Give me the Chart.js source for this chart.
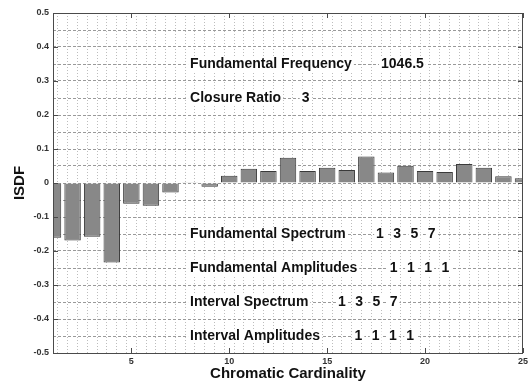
<!DOCTYPE html>
<html>
<head>
<meta charset="utf-8">
<script src="https://cdn.jsdelivr.net/npm/chart.js@4"></script>
<style>
  html, body { margin: 0; padding: 0; background: #fff; }
  #wrap { width: 531px; height: 385px; }
</style>
</head>
<body>
<div id="wrap"><canvas id="isdfChart" width="531" height="385"></canvas></div>
<script>
'use strict'
{
  const cardinality = [1, 2, 3, 4, 5, 6, 7, 8, 9, 10, 11, 12, 13, 14, 15, 16, 17, 18, 19, 20, 21, 22, 23, 24, 25];
  const isdf = [-0.161, -0.169, -0.158, -0.234, -0.061, -0.067, -0.028, 0.002, -0.011, 0.021,
    0.042, 0.035, 0.074, 0.035, 0.045, 0.038, 0.078, 0.031, 0.051, 0.035,
    0.032, 0.056, 0.045, 0.020, 0.014];
  const xTickLabels = [5, 10, 15, 20, 25];
  const yTickLabels = [-0.5, -0.4, -0.3, -0.2, -0.1, 0, 0.1, 0.2, 0.3, 0.4, 0.5];

  // text notes: label, value items, y level, label x, first item x, item step (axis units)
  const notes = [
    { label: 'Fundamental Frequency', items: ['1046.5'], y: 0.35, x: 8, vx: 17.75, step: 0 },
    { label: 'Closure Ratio', items: ['3'], y: 0.25, x: 8, vx: 13.7, step: 0 },
    { label: 'Fundamental Spectrum', items: ['1', '3', '5', '7'], y: -0.15, x: 8, vx: 17.5, step: 0.88 },
    { label: 'Fundamental Amplitudes', items: ['1', '1', '1', '1'], y: -0.25, x: 8, vx: 18.2, step: 0.88 },
    { label: 'Interval Spectrum', items: ['1', '3', '5', '7'], y: -0.35, x: 8, vx: 15.55, step: 0.88 },
    { label: 'Interval Amplitudes', items: ['1', '1', '1', '1'], y: -0.45, x: 8, vx: 16.4, step: 0.88 },
  ];

  const near = (v, list) => list.some(t => Math.abs(t - v) < 1e-6);

  const notesPlugin = {
    id: 'notes',
    afterDatasetsDraw(chart) {
      const { ctx, chartArea: a, scales: { x, y } } = chart;
      ctx.save();
      // frame
      ctx.strokeStyle = '#4a4a4a';
      ctx.lineWidth = 1;
      ctx.strokeRect(a.left + 0.5, a.top + 0.5, a.right - a.left - 1, a.bottom - a.top);
      // inward ticks
      xTickLabels.forEach(v => {
        const px = Math.round(x.getPixelForValue(v)) + 0.5;
        ctx.beginPath();
        ctx.moveTo(px, a.top); ctx.lineTo(px, a.top + 5);
        ctx.moveTo(px, a.bottom); ctx.lineTo(px, a.bottom - 5);
        ctx.stroke();
      });
      yTickLabels.forEach(v => {
        const py = Math.round(y.getPixelForValue(v)) + 0.5;
        ctx.beginPath();
        ctx.moveTo(a.left, py); ctx.lineTo(a.left + 5, py);
        ctx.moveTo(a.right, py); ctx.lineTo(a.right - 5, py);
        ctx.stroke();
      });
      // notes
      ctx.font = 'bold 14px "Liberation Sans", Arial, sans-serif';
      ctx.textBaseline = 'middle';
      ctx.textAlign = 'left';
      const put = (txt, px, py) => {
        const w = ctx.measureText(txt).width;
        ctx.fillStyle = '#fff';
        ctx.fillRect(px - 2, py - 7, w + 4, 14);
        ctx.fillStyle = '#111';
        ctx.fillText(txt, px, py);
      };
      notes.forEach(n => {
        const py = y.getPixelForValue(n.y);
        put(n.label, x.getPixelForValue(n.x), py);
        n.items.forEach((it, i) => put(it, x.getPixelForValue(n.vx + i * n.step), py));
      });
      ctx.restore();
    }
  };

  const data = {
    datasets: [{
      data: cardinality.map((c, i) => ({ x: c, y: isdf[i] })),
      backgroundColor: '#888888',
      borderColor: '#3a3a3a',
      borderWidth: 1,
      categoryPercentage: 1,
      // grid ticks sit every 0.5 so the bar ruler is half a unit wide
      barPercentage: 1.68,
    }],
  };

  const options = {
    responsive: false,
    animation: false,
    layout: { padding: { left: 0, top: 13, right: 3, bottom: 0 } },
    plugins: { legend: { display: false }, tooltip: { enabled: false } },
    scales: {
      x: {
        type: 'linear',
        min: 1,
        max: 25,
        offset: false,
        afterFit(scale) { scale.height = 32; },
        afterBuildTicks(scale) {
          const t = [];
          for (let k = 2; k <= 50; k++) t.push({ value: k / 2 });
          scale.ticks = t;
        },
        ticks: {
          autoSkip: false,
          maxRotation: 0,
          padding: 3,
          color: '#333',
          font: { family: '"Liberation Sans", Arial, sans-serif', size: 9, weight: 'bold' },
          callback: v => near(v, xTickLabels) ? String(v) : '',
        },
        grid: { color: '#bdbdbd', lineWidth: 1, drawTicks: false },
        border: { display: false, dash: [1, 2] },
        title: {
          display: true,
          text: 'Chromatic Cardinality',
          color: '#111',
          padding: { top: 0, bottom: 2 },
          font: { family: '"Liberation Sans", Arial, sans-serif', size: 15, weight: 'bold' },
        },
      },
      y: {
        min: -0.5,
        max: 0.5,
        afterFit(scale) { scale.width = 53; },
        afterBuildTicks(scale) {
          const t = [];
          for (let k = -10; k <= 10; k++) t.push({ value: k / 20 });
          scale.ticks = t;
        },
        ticks: {
          autoSkip: false,
          padding: 4,
          color: '#333',
          font: { family: '"Liberation Sans", Arial, sans-serif', size: 9, weight: 'bold' },
          callback: v => near(v, yTickLabels) ? String(Math.round(v * 10) / 10) : '',
        },
        grid: { color: '#999999', lineWidth: 1, drawTicks: false },
        border: { display: false, dash: [3, 2] },
        title: {
          display: true,
          text: 'ISDF',
          color: '#111',
          padding: { top: 11, bottom: 0 },
          font: { family: '"Liberation Sans", Arial, sans-serif', size: 15, weight: 'bold' },
        },
      },
    },
  };

  new Chart(document.getElementById('isdfChart').getContext('2d'), {
    type: 'bar',
    data: data,
    options: options,
    plugins: [notesPlugin],
  });
}
</script>
</body>
</html>
